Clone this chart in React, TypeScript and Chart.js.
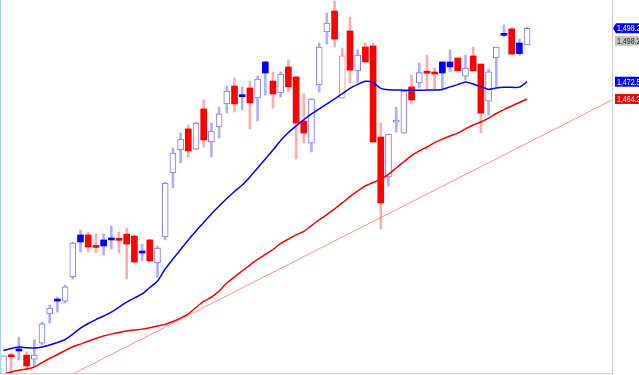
import React, { useEffect, useRef } from "react";
import { Chart, registerables } from "chart.js";

Chart.register(...registerables);

// ---- data ----
const opens = [
  1331.9, 1340.2, 1343.0, 1341.0, 1339.1, 1346.8, 1360.8, 1367.0, 1367.0, 1378.6,
  1398.8, 1398.8, 1392.8, 1396.4, 1396.4, 1396.2, 1399.2, 1398.3, 1390.1, 1396.4,
  1385.3, 1397.8, 1428.6, 1439.7, 1449.8, 1440.1, 1459.4, 1443.5, 1450.7, 1461.8,
  1470.4, 1465.3, 1469.5, 1464.7, 1482.0, 1472.8, 1467.1, 1479.6, 1474.8, 1453.6,
  1443.0, 1470.9, 1496.4, 1506.5, 1464.7, 1496.9, 1477.7, 1489.2, 1489.7, 1445.9,
  1426.7, 1453.1, 1447.8, 1470.0, 1471.9, 1476.6, 1476.2, 1482.0, 1482.0, 1483.9,
  1475.2, 1484.9, 1481.0, 1463.2, 1483.9, 1494.8, 1497.9, 1491.1, 1490.2,
];
const highs = [
  1340.6, 1342.0, 1349.7, 1342.5, 1348.3, 1356.9, 1365.1, 1368.9, 1374.7, 1395.4,
  1401.2, 1400.2, 1399.2, 1399.2, 1403.1, 1400.2, 1402.1, 1398.8, 1394.4, 1396.8,
  1393.5, 1424.2, 1440.6, 1447.8, 1451.7, 1453.1, 1463.7, 1452.6, 1460.3, 1470.4,
  1474.3, 1470.0, 1472.8, 1475.2, 1482.3, 1477.2, 1477.2, 1482.9, 1475.0, 1466.6,
  1464.4, 1491.1, 1505.5, 1511.3, 1488.7, 1503.6, 1487.8, 1491.1, 1491.1, 1452.6,
  1447.3, 1460.3, 1468.0, 1475.7, 1481.5, 1485.3, 1479.1, 1482.0, 1487.8, 1483.9,
  1485.3, 1489.2, 1481.0, 1478.6, 1489.2, 1499.8, 1498.8, 1493.0, 1498.8,
];
const lows = [
  1331.5, 1331.9, 1338.6, 1333.8, 1335.3, 1345.9, 1356.4, 1361.7, 1366.1, 1377.6,
  1390.6, 1390.6, 1390.1, 1389.1, 1392.0, 1390.1, 1377.6, 1385.3, 1386.3, 1385.8,
  1378.6, 1396.4, 1421.4, 1433.4, 1436.3, 1439.7, 1441.1, 1436.3, 1445.4, 1457.4,
  1457.9, 1458.9, 1449.8, 1453.6, 1466.1, 1459.8, 1465.1, 1467.5, 1435.3, 1443.0,
  1438.7, 1467.5, 1490.6, 1489.2, 1464.5, 1471.9, 1471.9, 1482.0, 1443.5, 1401.7,
  1422.3, 1448.3, 1447.8, 1461.8, 1469.5, 1469.0, 1469.0, 1469.0, 1477.2, 1477.7,
  1473.3, 1477.7, 1447.8, 1456.5, 1470.0, 1494.0, 1485.8, 1485.3, 1490.2,
];
const closes = [
  1340.6, 1340.2, 1343.0, 1335.8, 1341.0, 1356.0, 1363.6, 1367.0, 1373.8, 1394.9,
  1395.4, 1393.0, 1392.8, 1393.5, 1396.4, 1396.2, 1394.4, 1385.8, 1390.1, 1386.3,
  1392.5, 1423.8, 1438.2, 1444.9, 1439.2, 1452.6, 1444.5, 1448.8, 1457.0, 1468.0,
  1461.8, 1465.3, 1462.3, 1473.8, 1476.7, 1466.6, 1476.2, 1470.0, 1452.6, 1447.8,
  1464.2, 1489.2, 1500.7, 1493.0, 1484.9, 1478.1, 1485.3, 1482.0, 1443.5, 1414.2,
  1447.3, 1453.6, 1468.0, 1463.7, 1476.9, 1476.6, 1476.2, 1476.7, 1479.6, 1477.7,
  1479.1, 1477.7, 1457.4, 1477.2, 1489.2, 1494.8, 1485.8, 1486.0, 1498.2,
];
const maShort = [
  1343.2, 1344.2, 1344.9, 1344.6, 1344.4, 1344.9, 1345.9, 1347.1, 1348.5, 1351.1,
  1354.0, 1356.2, 1358.1, 1359.8, 1361.7, 1364.1, 1366.5, 1368.5, 1370.4, 1373.5,
  1376.6, 1382.4, 1387.2, 1391.8, 1396.4, 1400.7, 1404.8, 1408.9, 1412.7, 1416.3,
  1419.7, 1422.8, 1426.7, 1431.0, 1435.3, 1439.7, 1444.2, 1448.1, 1451.2, 1454.2,
  1457.0, 1459.4, 1461.8, 1464.2, 1466.8, 1469.3, 1471.2, 1472.7, 1472.1, 1469.3,
  1468.6, 1468.5, 1468.4, 1468.4, 1468.4, 1468.5, 1468.5, 1468.8, 1470.0, 1471.1,
  1472.4, 1471.4, 1470.1, 1468.8, 1469.5, 1469.8, 1469.8, 1469.9, 1472.5,
];
const maLong = [
  1331.9, 1332.9, 1333.7, 1334.3, 1335.3, 1337.4, 1339.4, 1341.3, 1343.2, 1345.0,
  1346.3, 1347.7, 1349.0, 1350.2, 1351.1, 1351.9, 1352.6, 1353.1, 1353.5, 1354.2,
  1355.0, 1355.8, 1357.2, 1358.8, 1360.8, 1363.9, 1366.8, 1368.9, 1371.8, 1375.7,
  1378.6, 1381.5, 1384.3, 1387.0, 1389.4, 1391.8, 1394.7, 1396.8, 1398.8, 1400.5,
  1403.3, 1406.0, 1408.6, 1411.3, 1414.2, 1417.2, 1420.0, 1422.4, 1424.0, 1425.5,
  1427.9, 1431.0, 1434.0, 1436.9, 1439.2, 1441.1, 1443.2, 1444.9, 1446.4, 1447.8,
  1449.8, 1451.7, 1453.1, 1455.0, 1457.2, 1459.1, 1460.8, 1462.5, 1464.2,
];
// trend line: [bar index, price]
const trendStart = [9, 1331.9];
const trendEnd = [80, 1465.5];

const priceMin = 1332.4;
const priceMax = 1511.8;
const xMin = -0.455;
const xMax = 79.03;

// ---- styling ----
const BLUE = "#0000ff";
const RED = "#ff0000";
const BLUE_OUTLINE = "#7878f4";
const RED_OUTLINE = "#ff8080";
const BLUE_WICK = "rgba(110,110,255,0.55)";
const RED_WICK = "rgba(255,90,90,0.5)";

const isDown = (i: number) => i > 0 && closes[i] < closes[i - 1];
const isHollow = (i: number) => closes[i] > opens[i];

const fmt = (v: number) =>
  v.toLocaleString("en-US", { minimumFractionDigits: 1, maximumFractionDigits: 1 });

const labelsPlugin = {
  id: "sideLabels",
  afterDraw(chart: any) {
    const { ctx, chartArea, scales } = chart;
    const ys = scales.y;
    const right = chartArea.right;
    ctx.save();
    // frame lines
    ctx.lineWidth = 1;
    ctx.strokeStyle = "#cfcfcf";
    ctx.beginPath();
    ctx.moveTo(right + 0.5, 0);
    ctx.lineTo(right + 0.5, chart.height);
    ctx.stroke();
    ctx.beginPath();
    ctx.moveTo(0, chartArea.bottom + 0.5);
    ctx.lineTo(right, chartArea.bottom + 0.5);
    ctx.stroke();
    ctx.strokeStyle = "#a9d6ee";
    ctx.beginPath();
    ctx.moveTo(0.5, 0);
    ctx.lineTo(0.5, chartArea.bottom);
    ctx.stroke();

    const last = closes.length - 1;
    const font = "9px 'Liberation Sans', Arial, sans-serif";
    const drawLabel = (yc: number, text: string, bg: string, fg: string, arrow: boolean) => {
      const x0 = right + 3;
      const h = 10;
      ctx.fillStyle = bg;
      ctx.beginPath();
      if (arrow) {
        ctx.moveTo(right + 1, yc);
        ctx.lineTo(x0 + 1, yc - h / 2);
        ctx.lineTo(chart.width, yc - h / 2);
        ctx.lineTo(chart.width, yc + h / 2);
        ctx.lineTo(x0 + 1, yc + h / 2);
        ctx.closePath();
      } else {
        ctx.rect(x0, yc - h / 2, chart.width - x0, h);
      }
      ctx.fill();
      ctx.save();
      ctx.translate(x0 + 2, yc + 0.5);
      ctx.scale(0.78, 1);
      ctx.fillStyle = fg;
      ctx.font = font;
      ctx.textBaseline = "middle";
      ctx.textAlign = "left";
      ctx.fillText(text, 0, 0);
      ctx.restore();
    };
    const yClose = ys.getPixelForValue(closes[last]);
    drawLabel(yClose, fmt(closes[last]), BLUE, "#ffffff", true);
    drawLabel(yClose + 12.5, fmt(closes[last]), "#c4c4c4", "#222222", false);
    drawLabel(ys.getPixelForValue(maShort[last]), fmt(maShort[last]), BLUE, "#ffffff", false);
    drawLabel(ys.getPixelForValue(maLong[last]), fmt(maLong[last]), RED, "#ffffff", false);
    ctx.restore();
  },
};

export default function App() {
  const ref = useRef<HTMLCanvasElement | null>(null);

  useEffect(() => {
    if (!ref.current) return;
    const idx = closes.map((_, i) => i);
    const wickData = idx.map((i) => ({ x: i, y: [lows[i], highs[i]] }));
    const bodyData = idx.map((i) => ({ x: i, y: [opens[i], closes[i]] }));
    const bodyFill = idx.map((i) => (isHollow(i) ? "#ffffff" : isDown(i) ? RED : BLUE));
    const bodyBorder = idx.map((i) =>
      isHollow(i) ? (isDown(i) ? RED_OUTLINE : BLUE_OUTLINE) : isDown(i) ? RED : BLUE
    );
    const bodyBorderW = idx.map((i) => (isHollow(i) ? 1 : 0));
    const wickColor = idx.map((i) => (isDown(i) ? RED_WICK : BLUE_WICK));

    const chart = new Chart(ref.current, {
      type: "bar",
      data: {
        datasets: [
          {
            type: "line",
            data: idx.map((i) => ({ x: i, y: maShort[i] })),
            borderColor: BLUE,
            borderWidth: 1.5,
            pointRadius: 0,
            tension: 0.25,
            order: 0,
          } as any,
          {
            type: "line",
            data: idx.map((i) => ({ x: i, y: maLong[i] })),
            borderColor: RED,
            borderWidth: 1.5,
            pointRadius: 0,
            tension: 0.25,
            order: 0,
          } as any,
          {
            type: "line",
            data: [
              { x: trendStart[0], y: trendStart[1] },
              { x: trendEnd[0], y: trendEnd[1] },
            ],
            borderColor: "rgba(255,70,70,0.6)",
            borderWidth: 1,
            pointRadius: 0,
            order: 3,
          } as any,
          {
            type: "bar",
            data: bodyData as any,
            backgroundColor: bodyFill,
            borderColor: bodyBorder,
            borderWidth: bodyBorderW,
            borderSkipped: false,
            barThickness: 6,
            minBarLength: 2,
            grouped: false,
            order: 1,
          } as any,
          {
            type: "bar",
            data: wickData as any,
            backgroundColor: wickColor,
            borderWidth: 0,
            barThickness: 2,
            grouped: false,
            order: 2,
          } as any,
        ],
      },
      options: {
        responsive: false,
        animation: false,
        events: [],
        layout: { padding: { left: 0, top: 0, right: 27, bottom: 2 } },
        plugins: { legend: { display: false }, tooltip: { enabled: false } },
        scales: {
          x: { type: "linear", min: xMin, max: xMax, display: false, offset: false },
          y: { type: "linear", min: priceMin, max: priceMax, display: false },
        },
      },
      plugins: [labelsPlugin],
    });
    return () => chart.destroy();
  }, []);

  return (
    <div style={{ position: "absolute", left: 0, top: 0, width: 639, height: 375, background: "#ffffff" }}>
      <canvas ref={ref} width={639} height={375} style={{ display: "block" }} />
    </div>
  );
}
